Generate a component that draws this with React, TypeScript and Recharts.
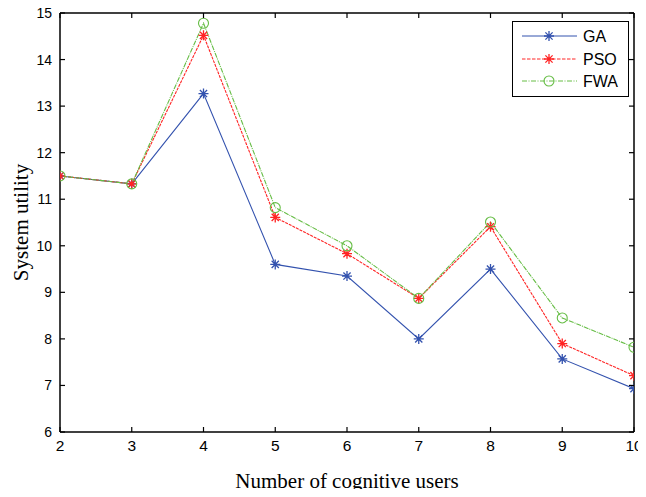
import React from 'react';
import { LineChart, Line, XAxis, YAxis, Legend } from 'recharts';

const users = [2, 3, 4, 5, 6, 7, 8, 9, 10];
const gaUtility = [11.5, 11.33, 13.27, 9.6, 9.35, 8.0, 9.5, 7.57, 6.93];
const psoUtility = [11.5, 11.33, 14.52, 10.61, 9.83, 8.87, 10.41, 7.9, 7.21];
const fwaUtility = [11.5, 11.33, 14.78, 10.82, 10.0, 8.87, 10.51, 8.45, 7.82];
const xTicks = [2, 3, 4, 5, 6, 7, 8, 9, 10];
const yTicks = [6, 7, 8, 9, 10, 11, 12, 13, 14, 15];
const seriesNames = ['GA', 'PSO', 'FWA'];

const data = users.map((u, i) => ({ x: u, ga: gaUtility[i], pso: psoUtility[i], fwa: fwaUtility[i] }));

const GA_COLOR = '#3352ae';
const PSO_COLOR = '#ff2424';
const FWA_COLOR = '#66bd45';
const PSO_DASH = '3 1';
const FWA_DASH = '5 1 1 1';
const PSO_LEGEND_DASH = '3.5 1.5';
const FWA_LEGEND_DASH = '5 1.5 1 1.5';

const SANS = 'Arial, "Liberation Sans", sans-serif';
const SERIF = '"Times New Roman", "Liberation Serif", serif';
const TICK_LEN = 5;
const TICK_COLOR = '#000';
const LEFT_MARGIN = 8;
const BOTTOM_MARGIN = 8;

function starPath(cx: number, cy: number, r: number) {
  const d = r * 0.72;
  return `M${cx - r},${cy}L${cx + r},${cy}M${cx},${cy - r}L${cx},${cy + r}M${cx - d},${cy - d}L${cx + d},${cy + d}M${cx - d},${cy + d}L${cx + d},${cy - d}`;
}

const makeStar = (color: string) => (props: any) => {
  const { cx, cy, index } = props;
  if (cx == null || cy == null) return <g key={index} />;
  return <path key={index} d={starPath(cx, cy, 5)} stroke={color} strokeWidth={1.3} fill="none" />;
};

const makeCircle = (color: string) => (props: any) => {
  const { cx, cy, index } = props;
  if (cx == null || cy == null) return <g key={index} />;
  return <circle key={index} cx={cx} cy={cy} r={5} stroke={color} strokeWidth={1.1} fill="none" />;
};

const LeftTick = (props: any) => {
  const { x, y, payload } = props;
  const ax = Number(x) + LEFT_MARGIN;
  const yy = Number(y);
  return (
    <g>
      <path d={`M${ax},${yy}H${ax + TICK_LEN}`} stroke={TICK_COLOR} strokeWidth={1.2} fill="none" />
      <text x={x} y={y} dy="0.355em" textAnchor="end" style={{ fontFamily: SANS, fontSize: 14 }} fill="#000">
        {payload.value}
      </text>
    </g>
  );
};

const BottomTick = (props: any) => {
  const { x, y, payload } = props;
  const xx = Number(x);
  const ay = Number(y) - BOTTOM_MARGIN;
  return (
    <g>
      <path d={`M${xx},${ay}V${ay - TICK_LEN}`} stroke={TICK_COLOR} strokeWidth={1.2} fill="none" />
      <text x={x} y={y} dy="0.71em" textAnchor="middle" style={{ fontFamily: SANS, fontSize: 15.5 }} fill="#000">
        {payload.value}
      </text>
    </g>
  );
};

const TopTick = (props: any) => {
  const xx = Number(props.x);
  const yy = Number(props.y);
  return <path d={`M${xx},${yy}V${yy + TICK_LEN}`} stroke={TICK_COLOR} strokeWidth={1.2} fill="none" />;
};

const RightTick = (props: any) => {
  const xx = Number(props.x);
  const yy = Number(props.y);
  return <path d={`M${xx},${yy}H${xx - TICK_LEN}`} stroke={TICK_COLOR} strokeWidth={1.2} fill="none" />;
};

const LegendBox = () => {
  const items = [
    { name: seriesNames[0], color: GA_COLOR, dash: undefined, marker: 'star' },
    { name: seriesNames[1], color: PSO_COLOR, dash: PSO_LEGEND_DASH, marker: 'star' },
    { name: seriesNames[2], color: FWA_COLOR, dash: FWA_LEGEND_DASH, marker: 'circle' },
  ];
  const ys = [14, 37, 59];
  return (
    <div style={{ width: 117, height: 76, border: '1.5px solid #000', background: '#fff', boxSizing: 'border-box', position: 'relative' }}>
      <svg width={114} height={73} style={{ position: 'absolute', left: 0, top: 0 }}>
        {items.map((it, i) => (
          <g key={it.name}>
            <line x1={9} x2={64} y1={ys[i]} y2={ys[i]} stroke={it.color} strokeWidth={1} strokeDasharray={it.dash} />
            {it.marker === 'star' ? (
              <path d={starPath(36, ys[i], 5)} stroke={it.color} strokeWidth={1.3} fill="none" />
            ) : (
              <circle cx={36} cy={ys[i]} r={5} stroke={it.color} strokeWidth={1.1} fill="none" />
            )}
            <text x={70} y={ys[i]} dy="0.36em" style={{ fontFamily: SANS, fontSize: 16 }} fill="#000">
              {it.name}
            </text>
          </g>
        ))}
      </svg>
    </div>
  );
};

export default function App() {
  return (
    <div style={{ margin: -8, width: 646, height: 497, background: '#fff' }}>
      <style>{`.recharts-surface { overflow: visible; }`}</style>
      <LineChart width={646} height={497} data={data} margin={{ top: 12, right: 11, bottom: 5, left: 0 }}>
        <XAxis
          xAxisId="bottom"
          dataKey="x"
          type="number"
          domain={[2, 10]}
          ticks={xTicks}
          interval={0}
          allowDataOverflow
          height={60}
          tickSize={0}
          tickMargin={BOTTOM_MARGIN}
          tick={<BottomTick />}
          tickLine={false}
          axisLine={{ stroke: '#000', strokeWidth: 1.5 }}
          label={{ value: 'Number of cognitive users', position: 'insideBottom', offset: 4, style: { fontFamily: SERIF, fontSize: 21, fill: '#000' } }}
        />
        <XAxis
          xAxisId="top"
          orientation="top"
          dataKey="x"
          type="number"
          domain={[2, 10]}
          ticks={xTicks}
          interval={0}
          allowDataOverflow
          height={1}
          tickSize={0}
          tickMargin={0}
          tick={<TopTick />}
          tickLine={false}
          axisLine={{ stroke: '#000', strokeWidth: 1.5 }}
        />
        <YAxis
          yAxisId="left"
          type="number"
          domain={[6, 15]}
          ticks={yTicks}
          interval={0}
          allowDataOverflow
          width={60}
          tickSize={0}
          tickMargin={LEFT_MARGIN}
          tick={<LeftTick />}
          tickLine={false}
          axisLine={{ stroke: '#000', strokeWidth: 1.5 }}
          label={{ value: 'System utility', angle: -90, position: 'insideLeft', offset: 21, style: { textAnchor: 'middle', fontFamily: SERIF, fontSize: 21, fill: '#000' } }}
        />
        <YAxis
          yAxisId="right"
          orientation="right"
          type="number"
          domain={[6, 15]}
          ticks={yTicks}
          interval={0}
          allowDataOverflow
          width={1}
          tickSize={0}
          tickMargin={0}
          tick={<RightTick />}
          tickLine={false}
          axisLine={{ stroke: '#000', strokeWidth: 1.5 }}
        />
        <Line xAxisId="bottom" yAxisId="left" dataKey="ga" name={seriesNames[0]} stroke={GA_COLOR} strokeWidth={1.1} dot={makeStar(GA_COLOR)} activeDot={false} isAnimationActive={false} />
        <Line xAxisId="bottom" yAxisId="left" dataKey="pso" name={seriesNames[1]} stroke={PSO_COLOR} strokeWidth={1.1} strokeDasharray={PSO_DASH} dot={makeStar(PSO_COLOR)} activeDot={false} isAnimationActive={false} />
        <Line xAxisId="bottom" yAxisId="left" dataKey="fwa" name={seriesNames[2]} stroke={FWA_COLOR} strokeWidth={1.1} strokeDasharray={FWA_DASH} dot={makeCircle(FWA_COLOR)} activeDot={false} isAnimationActive={false} />
        <Legend
          layout="horizontal"
          verticalAlign="middle"
          align="center"
          content={<LegendBox />}
          wrapperStyle={{ position: 'absolute', left: 512, top: 21, width: 117, height: 76 }}
        />
      </LineChart>
    </div>
  );
}
